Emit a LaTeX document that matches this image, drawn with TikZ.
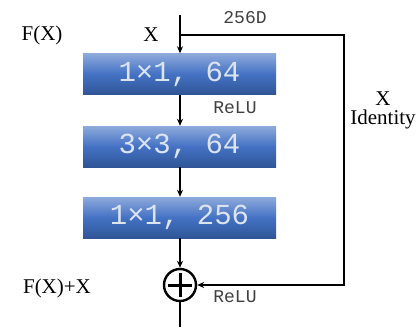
\documentclass[tikz,border=0pt]{standalone}
\usepackage{fontspec}
\setmainfont{Liberation Serif}
\setmonofont{Liberation Mono}
\usepackage{tikz}
\usetikzlibrary{arrows.meta, positioning, calc}
\definecolor{boxtop}{HTML}{8EAADB}
\definecolor{boxmid}{HTML}{4472C4}
\definecolor{boxbot}{HTML}{2F5597}
\definecolor{boxtext}{HTML}{DCE4F2}

\begin{document}
\begin{tikzpicture}[x=1pt, y=-1pt,
        block/.style={rectangle, minimum height=41pt, minimum width=193pt, inner sep=0pt, top color=boxtop, bottom color=boxbot, middle color=boxmid, text=boxtext, font=\fontsize{29}{30}\selectfont\ttfamily},
        sumnode/.style={circle, draw, line width=2.4pt, minimum size=32pt, inner sep=0pt,
            path picture={\draw[line width=3pt] ($(path picture bounding box.center)+(-12,0)$) -- ++(24,0) ($(path picture bounding box.center)+(0,-12)$) -- ++(0,24);}},
        label/.style={font=\fontsize{21}{23}\selectfont, align=center},
        small/.style={font=\fontsize{18}{20}\selectfont\ttfamily, text=black!75},
        arrow/.style={-{Stealth[length=7pt, width=6pt]}, line width=1.5pt}
    ]
        \useasboundingbox (0,0) rectangle (420,327);

        % Bottleneck layers
        \node[block] (conv1) at (179.5,74) {1×1, 64};
        \node[block] (conv2) at (179.5,146.5) {3×3, 64};
        \node[block] (conv3) at (179.5,217.5) {1×1, 256};
        \node[sumnode] (sum) at (180,285) {};

        % Path points
        \coordinate (in) at (180,15);
        \coordinate (split) at (180,35);
        \coordinate (corner) at (344,35);
        \coordinate (out) at (180,327);

        % Main path
        \draw[arrow] (in) -- (conv1.north -| in);
        \draw[arrow] (conv1.south -| in) -- (conv2.north -| in);
        \draw[arrow] (conv2.south -| in) -- (conv3.north -| in);
        \draw[arrow] (conv3.south -| in) -- (sum.north);
        \draw[line width=1.5pt] (sum.south) -- (out);

        % Shortcut
        \draw[arrow] (split) -- (corner) |- (sum.east);

        % Labels
        \node[label] (fx) at (42,35) {F(X)};
        \node[label] (x) at (151,35) {X};
        \node[small] (dim) at (245,18) {256D};
        \node[small] (relu1) at (235,108) {ReLU};
        \node[label] (ident) at (383,110) {X\\[-4pt]Identity};
        \node[label] (fxx) at (57,288) {F(X)+X};
        \node[small] (relu2) at (235,297) {ReLU};
    \end{tikzpicture}
\end{document}
